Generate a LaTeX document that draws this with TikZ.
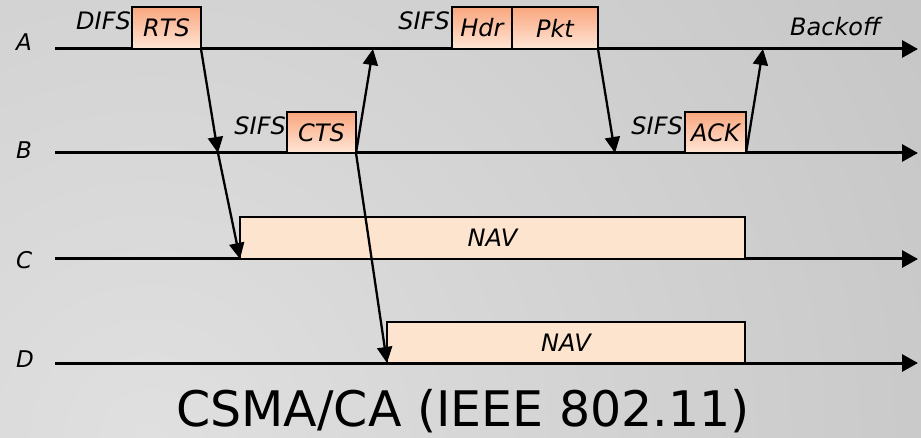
\documentclass[tikz,border=0pt]{standalone}
\usepackage{fontspec}
\setmainfont{DejaVu Sans}
\usetikzlibrary{arrows.meta}
\definecolor{bgIn}{RGB}{224,224,224}
\definecolor{bgOut}{RGB}{172,172,172}
\definecolor{boxTop}{RGB}{249,166,126}
\definecolor{boxBot}{RGB}{255,230,214}
\definecolor{navFill}{RGB}{253,228,206}
\pgfdeclareradialshading{bgradial}{\pgfpoint{0bp}{0bp}}{color(0bp)=(bgIn); color(50bp)=(bgOut)}
\newcommand\lblfont{\fontsize{24}{24}\selectfont\itshape}
\newcommand\sidefont{\fontsize{23}{23}\selectfont\itshape}
\tikzset{
  timeline/.style={line width=3pt, -{Triangle[length=16pt,width=17pt]}},
  msg/.style={line width=2.3pt, -{Triangle[length=16pt,width=15pt]}},
  pbox/.style={draw=black, line width=2pt, top color=boxTop, bottom color=boxBot,
    minimum height=42pt, inner sep=0pt, outer sep=0pt, anchor=south west, font=\lblfont},
  navbox/.style={draw=black, line width=2pt, fill=navFill,
    minimum height=42pt, inner sep=0pt, outer sep=0pt, anchor=south west, font=\lblfont},
  lbl/.style={inner sep=0pt, font=\lblfont},
  side/.style={inner sep=0pt, font=\sidefont, anchor=base west}
}
\begin{document}
\begin{tikzpicture}[x=1pt,y=-1pt]
\begin{scope}
\clip (0,0) rectangle (921,438);
\shade[shading=bgradial] (150,440) circle (900);
\end{scope}
\useasboundingbox (0,0) rectangle (921,438);

% time lines
\coordinate (A0) at (55,49);  \coordinate (A1) at (918,49);
\coordinate (B0) at (55,153); \coordinate (B1) at (918,153);
\coordinate (C0) at (55,259); \coordinate (C1) at (918,259);
\coordinate (D0) at (55,363); \coordinate (D1) at (918,363);
\draw[timeline] (A0) -- (A1);
\draw[timeline] (B0) -- (B1);
\draw[timeline] (C0) -- (C1);
\draw[timeline] (D0) -- (D1);

% station labels
\node[side] (la) at (16,51) {A};
\node[side] (lb) at (16,159) {B};
\node[side] (lc) at (16,269) {C};
\node[side] (ld) at (16,367) {D};

% frames
\node[pbox, minimum width=69pt] (rts) at (132,49) {RTS};
\node[pbox, minimum width=69pt, minimum height=41pt] (cts) at (287,153) {CTS};
\node[pbox, minimum width=60pt] (hdr) at (452,49) {Hdr};
\node[pbox, minimum width=86pt] (pkt) at (512,49) {Pkt};
\node[pbox, minimum width=61pt, minimum height=41pt] (ack) at (685,153) {ACK};
\node[navbox, minimum width=505pt] (navC) at (240,259) {NAV};
\node[navbox, minimum width=358pt, minimum height=41pt] (navD) at (387,363) {NAV};

% interframe spaces
\node[lbl, anchor=base east] (difs) at (131,30) {DIFS};
\node[lbl, anchor=base east] (sifs1) at (286,135) {SIFS};
\node[lbl, anchor=base east] (sifs2) at (450,30) {SIFS};
\node[lbl, anchor=base east] (sifs3) at (683,135) {SIFS};
\node[lbl, anchor=base west] (backoff) at (790,36) {Backoff};

% messages
\coordinate (rtsB) at (218,153);
\coordinate (ctsA) at (373,49);
\coordinate (pktB) at (615,153);
\coordinate (ackA) at (763,49);
\draw[msg] (rts.south east) -- (rtsB);
\draw[msg] (rtsB) -- (navC.south west);
\draw[msg] (cts.south east) -- (ctsA);
\draw[msg] (cts.south east) -- (navD.south west);
\draw[msg] (pkt.south east) -- (pktB);
\draw[msg] (ack.south east) -- (ackA);

% title
\node[inner sep=0pt, anchor=base, font=\fontsize{49}{49}\selectfont] (title) at (463,426) {CSMA/CA (IEEE 802.11)};
\end{tikzpicture}
\end{document}
